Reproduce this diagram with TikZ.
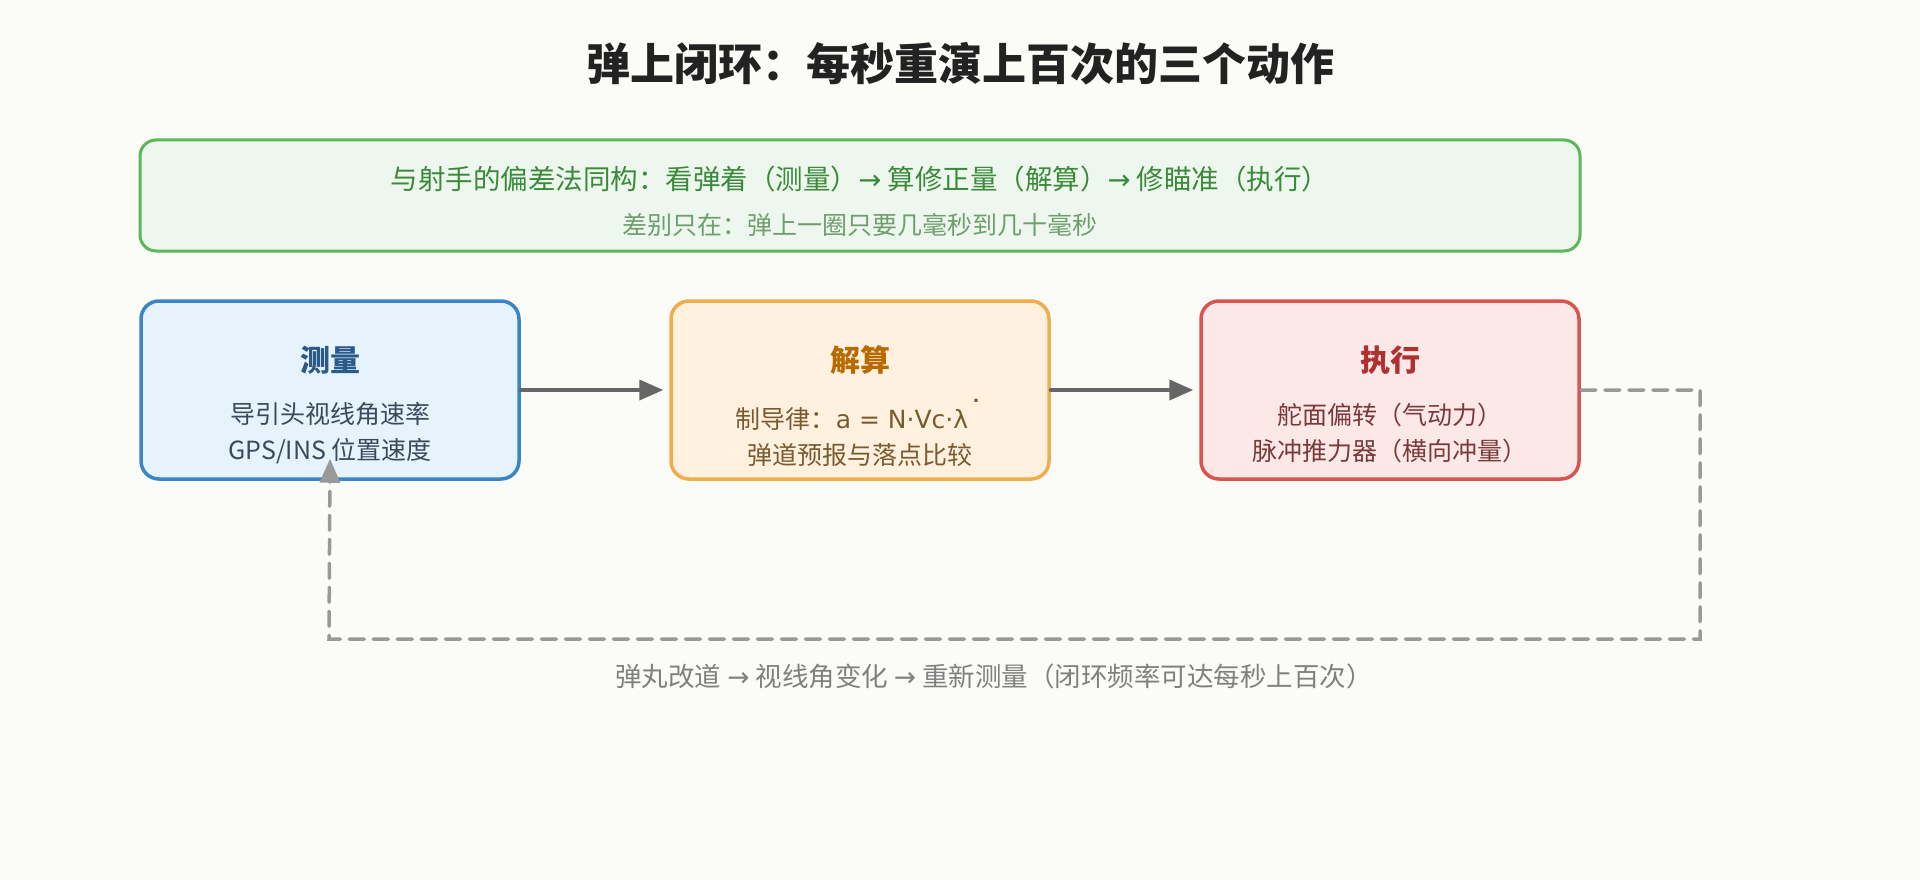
\documentclass[tikz,border=0pt]{standalone}
\usepackage{fontspec}
\setmainfont{Noto Sans CJK SC}
\newfontfamily\dejavu{DejaVu Sans}
\usetikzlibrary{arrows.meta,positioning}
\definecolor{bgcol}{HTML}{FBFBF7}
\definecolor{titlecol}{HTML}{222222}
\definecolor{greenfill}{HTML}{EEF7EE}
\definecolor{greendraw}{HTML}{5CB85C}
\definecolor{greentext}{HTML}{3A8A3A}
\definecolor{greenlight}{HTML}{6E9E6E}
\definecolor{bluefill}{HTML}{E6F2FC}
\definecolor{bluedraw}{HTML}{3A84C8}
\definecolor{bluetext}{HTML}{2A5A8A}
\definecolor{bluebody}{HTML}{3A4A5E}
\definecolor{orangefill}{HTML}{FFF1DE}
\definecolor{orangedraw}{HTML}{F0AD4E}
\definecolor{orangetext}{HTML}{B86A00}
\definecolor{orangebody}{HTML}{7A5A30}
\definecolor{redfill}{HTML}{FDE8E8}
\definecolor{reddraw}{HTML}{D9534F}
\definecolor{redtext}{HTML}{B03030}
\definecolor{redbody}{HTML}{7A3A3A}
\begin{document}
\begin{tikzpicture}
			[x=1pt,y=-1pt,line cap=round,
			%Styles
			step box/.style={rounded corners=18pt,line width=3.5pt,minimum width=378pt,minimum height=178pt},
			box title/.style={font=\fontsize{30}{36}\selectfont\bfseries},
			box body/.style={font=\fontsize{25}{36}\selectfont,align=center},
			flow arrow/.style={-{Triangle[length=24pt,width=20pt]},line width=4pt,draw=black!60},
			back arrow/.style={-{Triangle[length=24pt,width=20pt]},line width=3.5pt,draw=black!40,dash pattern=on 15pt off 9pt}
			]
			
			%The graphic
			\fill[bgcol] (0,0) rectangle (1920,880);
			\useasboundingbox (0,0) rectangle (1920,880);
			\node[font=\fontsize{44}{50}\selectfont\bfseries,text=titlecol] (title) at (960,64) {弹上闭环：每秒重演上百次的三个动作};
			
			\draw[rounded corners=16pt,line width=3pt,draw=greendraw,fill=greenfill] (140,140) rectangle (1580,251);
			\node[font=\fontsize{27.5}{32}\selectfont,text=greentext] (same) at (860,179) {与射手的偏差法同构：看弹着（测量）{\dejavu →} 算修正量（解算）{\dejavu →} 修瞄准（执行）};
			\node[font=\fontsize{25}{30}\selectfont,text=greenlight] (diff) at (860,225) {差别只在：弹上一圈只要几毫秒到几十毫秒};
			
			\node[step box,draw=bluedraw,fill=bluefill] (measure) at (330,390) {};
			\node[step box,draw=orangedraw,fill=orangefill] (solve) at (860,390) {};
			\node[step box,draw=reddraw,fill=redfill] (act) at (1390,390) {};
			
			\node[box title,text=bluetext] at (330,360) {测量};
			\node[box body,text=bluebody] at (330,433) {导引头视线角速率\\GPS/INS 位置速度};
			\node[box title,text=orangetext] at (860,360) {解算};
			\node[box body,text=orangebody] at (860,433) {制导律：{\dejavu a = N·Vc·λ\raisebox{0.35ex}{\fontsize{32}{32}\selectfont˙}}\\弹道预报与落点比较};
			\node[box title,text=redtext] at (1390,360) {执行};
			\node[box body,text=redbody] at (1390,433) {舵面偏转（气动力）\\脉冲推力器（横向冲量）};
			
			\draw[flow arrow] (measure.east) -- ([xshift=-6pt]solve.west);
			\draw[flow arrow] (solve.east) -- ([xshift=-6pt]act.west);
			\coordinate (c1) at (1700,390);
			\coordinate (c2) at (1700,639);
			\coordinate (c3) at (329,639);
			\draw[back arrow] (act.east) -- (c1) -- (c2) -- (c3) -- ([yshift=22pt]measure.south);
			\node[font=\fontsize{26.5}{30}\selectfont,text=black!50] (loop) at (994,676) {弹丸改道 {\dejavu →} 视线角变化 {\dejavu →} 重新测量（闭环频率可达每秒上百次）};
		\end{tikzpicture}
\end{document}
